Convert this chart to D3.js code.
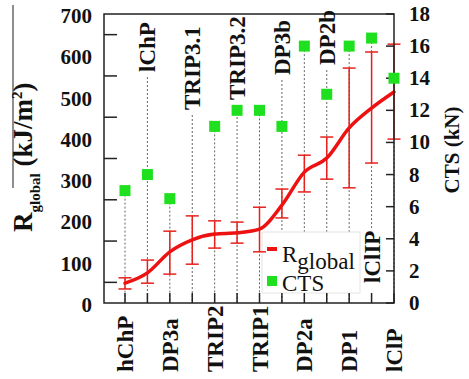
<!DOCTYPE html>
<html>
<head>
<meta charset="utf-8">
<script src="https://cdn.jsdelivr.net/npm/d3@7/dist/d3.min.js"></script>
<style>
  html, body { margin: 0; padding: 0; background: #fff; }
  svg { display: block; }
</style>
</head>
<body>
<svg id="chart" width="469" height="379"></svg>
<script>
// ---- data ----
const categories = ["hChP","lChP","DP3a","TRIP3.1","TRIP2","TRIP3.2","TRIP1","DP3b","DP2a","DP2b","DP1","lClIP","lClP"];
const rGlobal    = [48, 73, 124, 153, 167, 170, 179, 237, 317, 351, 424, 472, 511];
const rLow       = [34, 48, 70, 94, 133, 145, 124, 206, 269, 300, 279, 339, 397];
const rHigh      = [61, 104, 174, 211, 199, 196, 232, 276, 358, 402, 569, 608, 627];
const cts        = [7, 8, 6.5, null, 11, 12, 12, 11, 16, 13, 16, 16.5, 14];
const leftTicks  = [0, 100, 200, 300, 400, 500, 600, 700];
const leftMinor  = [50, 150, 250, 350, 450, 550, 650];
const rightTicks = [0, 2, 4, 6, 8, 10, 12, 14, 16, 18];

// ---- layout ----
const FONT = "'Liberation Serif', 'Times New Roman', Times, serif";
const L = 104, R = 394, T = 14, B = 303;
// inside-top label start positions (px) for odd-index categories
const topLabelStart = {1: 72, 3: 110, 5: 100, 7: 75, 9: 65, 11: 283};

const svg = d3.select("#chart").attr("font-family", FONT);
const x  = d3.scalePoint().domain(categories).range([125, R]);
const yL = d3.scaleLinear().domain([0, 700]).range([B, T]);
const yR = d3.scaleLinear().domain([0, 18]).range([B, T]);

// dotted guide lines
const guides = svg.append("g");
categories.forEach((c, i) => {
  const xc = x(c);
  if (i % 2 === 0) {
    if (cts[i] != null) {
      guides.append("line").attr("x1", xc).attr("x2", xc).attr("y1", yR(cts[i])).attr("y2", B);
    }
  } else if (i === 11) {
    guides.append("line").attr("x1", xc).attr("x2", xc).attr("y1", yR(cts[i])).attr("y2", 230);
  } else {
    guides.append("line").attr("x1", xc).attr("x2", xc).attr("y1", topLabelStart[i] + 5).attr("y2", B);
  }
});
guides.selectAll("line").attr("stroke", "#666").attr("stroke-width", 1).attr("stroke-dasharray", "2,2");

// legend box (white, covers guides)
svg.append("rect").attr("x", 262).attr("y", 232).attr("width", 98).attr("height", 61)
  .attr("fill", "#fff").attr("stroke", "#e4e4e4").attr("stroke-width", 1);

// error bars
const eb = svg.append("g").attr("stroke", "#e8201c").attr("stroke-width", 1.5);
categories.forEach((c, i) => {
  const xc = x(c);
  eb.append("line").attr("x1", xc).attr("x2", xc).attr("y1", yL(rLow[i])).attr("y2", yL(rHigh[i]));
  eb.append("line").attr("x1", xc - 6.5).attr("x2", xc + 6.5).attr("y1", yL(rLow[i])).attr("y2", yL(rLow[i]));
  eb.append("line").attr("x1", xc - 6.5).attr("x2", xc + 6.5).attr("y1", yL(rHigh[i])).attr("y2", yL(rHigh[i]));
});

// R_global line
const line = d3.line().x((d, i) => x(categories[i])).y(d => yL(d)).curve(d3.curveMonotoneX);
svg.append("path").datum(rGlobal).attr("d", line)
  .attr("fill", "none").attr("stroke", "#ee1111").attr("stroke-width", 3.5).attr("stroke-linecap", "round");

// frame
svg.append("rect").attr("x", L).attr("y", T).attr("width", R - L).attr("height", B - T)
  .attr("fill", "none").attr("stroke", "#222").attr("stroke-width", 1.5);

// left ticks (inward)
svg.append("g").selectAll("line").data(leftMinor).join("line")
  .attr("x1", L).attr("x2", L + 13).attr("y1", d => yL(d)).attr("y2", d => yL(d))
  .attr("stroke", "#222").attr("stroke-width", 1.5);
svg.append("g").selectAll("text").data(leftTicks).join("text")
  .attr("x", 92).attr("y", d => yL(d) + 2).attr("text-anchor", "end").attr("dominant-baseline", "central")
  .attr("font-family", FONT).attr("font-size", 21).attr("font-weight", "bold").attr("fill", "#111").text(d => d);

// right ticks (inward)
svg.append("g").selectAll("line").data(rightTicks).join("line")
  .attr("x1", R - 8).attr("x2", R).attr("y1", d => yR(d)).attr("y2", d => yR(d))
  .attr("stroke", "#222").attr("stroke-width", 1.5);
svg.append("g").selectAll("text").data(rightTicks).join("text")
  .attr("x", 409).attr("y", d => yR(d)).attr("text-anchor", "start").attr("dominant-baseline", "central")
  .attr("font-family", FONT).attr("font-size", 21).attr("font-weight", "bold").attr("fill", "#111").text(d => d);

// bottom ticks (inward)
svg.append("g").selectAll("line").data(categories).join("line")
  .attr("x1", d => x(d)).attr("x2", d => x(d)).attr("y1", B).attr("y2", B - 10)
  .attr("stroke", "#222").attr("stroke-width", 1.5);

// CTS squares
svg.append("g").selectAll("rect").data(categories.map((c, i) => ({c, v: cts[i]})).filter(d => d.v != null)).join("rect")
  .attr("x", d => x(d.c) - 5.5).attr("y", d => yR(d.v) - 5.5).attr("width", 11).attr("height", 11)
  .attr("fill", "#1ee01e");

// category labels
const cl = svg.append("g");
categories.forEach((c, i) => {
  const xc = x(c);
  const y0 = (i % 2 === 0) ? 372 : topLabelStart[i];
  cl.append("text").attr("transform", `translate(${xc + 8},${y0}) rotate(-90)`)
    .attr("text-anchor", "start").attr("font-family", FONT).attr("font-size", 23)
    .attr("font-weight", "bold").attr("fill", "#111").text(c);
});

// legend content
const lg2 = svg.append("g");
lg2.append("rect").attr("x", 267).attr("y", 247).attr("width", 10).attr("height", 4).attr("fill", "#ee1111");
const lt = lg2.append("text").attr("x", 282).attr("y", 262).attr("font-family", FONT).attr("font-size", 23).attr("fill", "#111");
lt.append("tspan").text("R");
lt.append("tspan").attr("dy", 7).text("global");
lg2.append("rect").attr("x", 267).attr("y", 276).attr("width", 10).attr("height", 10).attr("fill", "#1ee01e");
lg2.append("text").attr("x", 282).attr("y", 291).attr("font-family", FONT).attr("font-size", 23).attr("fill", "#111").text("CTS");

// axis titles
svg.append("line").attr("x1", 13).attr("x2", 13).attr("y1", 5).attr("y2", 188).attr("stroke", "#444").attr("stroke-width", 1.2);
const lt2 = svg.append("text").attr("transform", "translate(32,232) rotate(-90)")
  .attr("font-family", FONT).attr("font-weight", "bold").attr("fill", "#111").attr("font-size", 27);
lt2.append("tspan").text("R");
lt2.append("tspan").attr("font-size", 15).attr("dy", 8).text("global");
lt2.append("tspan").attr("dy", -8).text(" (kJ/m");
lt2.append("tspan").attr("font-size", 15).attr("dy", -10).text("2");
lt2.append("tspan").attr("dy", 10).text(")");

svg.append("text").attr("transform", "translate(459,150) rotate(-90)")
  .attr("text-anchor", "middle").attr("font-family", FONT).attr("font-weight", "bold").attr("font-size", 21).attr("fill", "#111")
  .text("CTS (kN)");
</script>
</body>
</html>
